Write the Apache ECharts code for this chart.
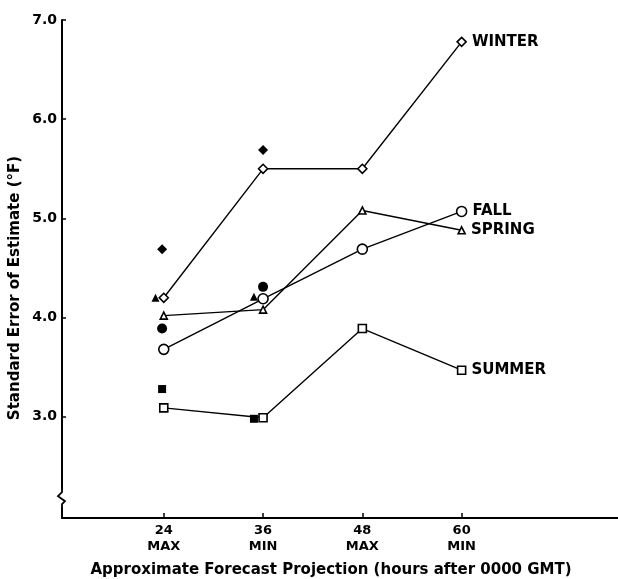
<!DOCTYPE html>
<html>
<head>
<meta charset="utf-8">
<script src="https://cdn.jsdelivr.net/npm/echarts@6/dist/echarts.min.js"></script>
<style>html,body{margin:0;padding:0;background:#fff;}#chart{width:618px;height:579px;}</style>
</head>
<body>
<div id="chart"></div>
<script>
// Data
const hours = [24, 36, 48, 60];
const tickLabels = ['24\nMAX', '36\nMIN', '48\nMAX', '60\nMIN'];
const yTicks = [3, 4, 5, 6, 7];
const seasonNames = ['WINTER', 'SPRING', 'FALL', 'SUMMER'];
const winter = [4.2, 5.5, 5.5, 6.78];
const spring = [4.02, 4.08, 5.08, 4.88];
const fall = [3.68, 4.19, 4.69, 5.07];
const summer = [3.09, 2.99, 3.89, 3.47];
// filled (single) markers
const winterFilledHours = [23.8, 36];
const winterFilled = [4.69, 5.69];
const springFilledHours = [23, 34.9];
const springFilled = [4.2, 4.21];
const fallFilledHours = [23.8, 36];
const fallFilled = [3.89, 4.31];
const summerFilledHours = [23.8, 34.9];
const summerFilled = [3.28, 2.98];

const xMin = 11.7, xMax = 78.9, yMin = 1.98, yMax = 7.0;
const FONT = 'DejaVu Sans';

function lineSeries(name, vals, symbol, size) {
  return {
    type: 'line', name: name,
    data: hours.map((h, i) => [h, vals[i]]),
    symbol: symbol, symbolSize: size,
    lineStyle: {color: '#000', width: 1.4},
    itemStyle: {color: '#fff', borderColor: '#000', borderWidth: 1.6, opacity: 1},
    label: {
      show: true, position: 'right', distance: 5,
      formatter: p => p.dataIndex === vals.length - 1 ? name : '',
      color: '#000', fontFamily: FONT, fontWeight: 'bold', fontSize: 15
    },
    z: 3
  };
}
function filledSeries(xs, vals, symbol, size) {
  return {
    type: 'scatter',
    data: xs.map((h, i) => [h, vals[i]]),
    symbol: symbol, symbolSize: size,
    itemStyle: {color: '#000', opacity: 1},
    z: 4
  };
}

const chart = echarts.init(document.getElementById('chart'));
chart.setOption({
  animation: false,
  backgroundColor: '#fff',
  grid: {left: 62, right: 0, top: 20, bottom: 61},
  xAxis: {
    type: 'value', min: xMin, max: xMax,
    splitLine: {show: false},
    axisLine: {lineStyle: {color: '#000', width: 1.8}},
    axisTick: {inside: true, length: 5, customValues: hours, lineStyle: {color: '#000', width: 1.5}},
    axisLabel: {
      customValues: hours,
      formatter: v => tickLabels[hours.indexOf(v)] || '',
      color: '#000', fontFamily: FONT, fontWeight: 'bold', fontSize: 13, lineHeight: 16, margin: 5
    }
  },
  yAxis: {
    type: 'value', min: yMin, max: yMax,
    splitLine: {show: false},
    axisLine: {lineStyle: {color: '#000', width: 2}},
    axisTick: {inside: true, length: 4, customValues: yTicks, lineStyle: {color: '#000', width: 1.5}},
    axisLabel: {
      customValues: yTicks,
      formatter: v => v.toFixed(1),
      color: '#000', fontFamily: FONT, fontWeight: 'bold', fontSize: 14, margin: 5
    }
  },
  series: [
    lineSeries(seasonNames[0], winter, 'diamond', 9),
    lineSeries(seasonNames[1], spring, 'triangle', 7),
    lineSeries(seasonNames[2], fall, 'circle', 10),
    lineSeries(seasonNames[3], summer, 'rect', 8),
    filledSeries(winterFilledHours, winterFilled, 'diamond', 10),
    filledSeries(springFilledHours, springFilled, 'triangle', 8),
    filledSeries(fallFilledHours, fallFilled, 'circle', 10),
    filledSeries(summerFilledHours, summerFilled, 'rect', 8)
  ]
});

// Axis titles and break mark
const p0 = chart.convertToPixel({gridIndex: 0}, [xMin, 2.18]);
const ax = p0[0], ay = p0[1];
chart.setOption({
  graphic: [
    {
      type: 'text', x: 331, y: 563,
      style: {text: 'Approximate Forecast Projection (hours after 0000 GMT)', fill: '#000', align: 'center',
        font: 'bold 15px "DejaVu Sans"'}
    },
    {
      type: 'text', x: 8, y: 288, rotation: Math.PI / 2,
      style: {text: 'Standard Error of Estimate (°F)', fill: '#000', align: 'center', verticalAlign: 'top',
        font: 'bold 15px "DejaVu Sans"'}
    },
    {
      type: 'rect', shape: {x: ax - 3, y: ay - 9, width: 6, height: 18},
      style: {fill: '#fff'}, z: 100
    },
    {
      type: 'polyline',
      shape: {points: [[ax, ay - 10], [ax, ay - 6], [ax - 4, ay - 2], [ax + 3, ay + 3], [ax, ay + 6], [ax, ay + 10]]},
      style: {stroke: '#000', lineWidth: 1.8, fill: null}, z: 101
    }
  ]
});
</script>
</body>
</html>
